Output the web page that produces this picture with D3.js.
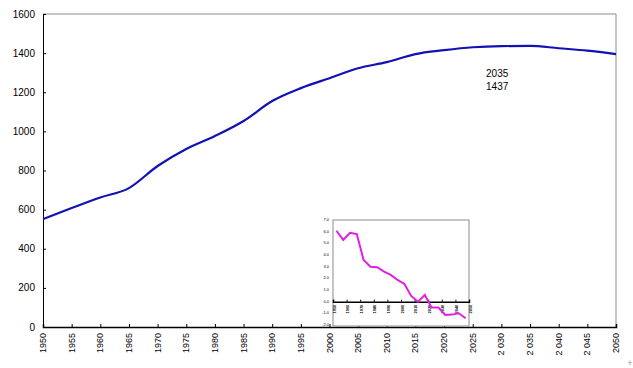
<!DOCTYPE html>
<meta charset="utf-8">
<head>
    <script src="https://d3js.org/d3.v7.min.js"></script>
    <style>
        body { margin: 0; background: #fff; font-family: 'Liberation Sans', Arial, sans-serif; }
        svg { display: block; }
        text { fill: #000; }
        .tick-y { font-size: 10px; }
        .tick-x { font-size: 9px; }
        .note { font-size: 10px; }
        .mini { font-size: 4px; }
    </style>
</head>
<body>
<svg width="633" height="368"></svg>
<script>
    // main series
    const years = [1950, 1955, 1960, 1965, 1970, 1975, 1980, 1985, 1990, 1995, 2000,
        2005, 2010, 2015, 2020, 2025, 2030, 2035, 2040, 2045, 2050];
    const population = [552, 608, 662, 710, 823, 910, 976, 1053, 1155, 1221, 1272,
        1323, 1354, 1395, 1415, 1430, 1436, 1437, 1425, 1413, 1395];
    const yTicks = [0, 200, 400, 600, 800, 1000, 1200, 1400, 1600];
    const xTicks = [1950, 1955, 1960, 1965, 1970, 1975, 1980, 1985, 1990, 1995, 2000,
        2005, 2010, 2015, 2020, 2025, 2030, 2035, 2040, 2045, 2050];
    const xTickLabels = ['1950', '1955', '1960', '1965', '1970', '1975', '1980', '1985', '1990', '1995', '2000',
        '2005', '2010', '2015', '2020', '2025', '2 030', '2 035', '2 040', '2 045', '2050'];

    // inset series (one value per period)
    const insetValues = [6.08, 5.29, 5.91, 5.80, 3.57, 3.0, 2.95, 2.57, 2.29, 1.86,
        1.52, 0.49, 0.0, 0.57, -0.51, -0.51, -1.14, -1.11, -0.99, -1.42];
    const insetYTicks = [-2, -1, 0, 1, 2, 3, 4, 5, 6, 7];
    const insetXTicks = [0, 2, 4, 6, 8, 10, 12, 14, 16, 18, 20];
    const insetXLabels = ['1950', '1960', '1970', '1980', '1990', '2000', '2010', '2020', '2030', '2040', '2050'];

    const svg = d3.select('svg');

    const x = d3.scaleLinear().domain([1950, 2050]).range([43, 616]);
    const y = d3.scaleLinear().domain([0, 1600]).range([327, 14]);

    // frame (top and right in gray)
    svg.append('path')
        .attr('d', `M${x(1950)},${y(1600)}H${x(2050)}V${y(0)}`)
        .attr('fill', 'none')
        .attr('stroke', '#8c8c8c');

    const yAxis = svg.append('g')
        .attr('transform', `translate(${x(1950)},0)`)
        .call(d3.axisRight(y).tickValues(yTicks).tickSize(3).tickFormat(''));
    yAxis.select('.domain').attr('stroke', '#000');
    yAxis.selectAll('.tick line').attr('stroke', '#000');

    svg.append('g').selectAll('text')
        .data(yTicks)
        .enter().append('text')
        .attr('class', 'tick-y')
        .attr('x', x(1950) - 8)
        .attr('y', (d) => y(d) + 3.5)
        .attr('text-anchor', 'end')
        .text((d) => d);

    const xAxis = svg.append('g')
        .attr('transform', `translate(0,${y(0)})`)
        .call(d3.axisTop(x).tickValues(xTicks).tickSize(3).tickFormat(''));
    xAxis.select('.domain').attr('stroke', '#000').attr('stroke-width', 1.5);
    xAxis.selectAll('.tick line').attr('stroke', '#000');

    svg.append('g').selectAll('text')
        .data(xTicks)
        .enter().append('text')
        .attr('class', 'tick-x')
        .attr('transform', (d) => `translate(${x(d) + 3},${y(0) + 6}) rotate(-90)`)
        .attr('text-anchor', 'end')
        .text((d, i) => xTickLabels[i]);

    const line = d3.line()
        .x((d, i) => x(years[i]))
        .y((d) => y(d))
        .curve(d3.curveMonotoneX);

    svg.append('path')
        .datum(population)
        .attr('d', line)
        .attr('fill', 'none')
        .attr('stroke', '#1212b4')
        .attr('stroke-width', 2.2);

    svg.append('text')
        .attr('class', 'note')
        .attr('x', x(2035) - 44)
        .attr('y', y(1437) + 31)
        .text('2035');
    svg.append('text')
        .attr('class', 'note')
        .attr('x', x(2035) - 44)
        .attr('y', y(1437) + 44)
        .text('1437');

    // inset chart
    const ix = d3.scaleLinear().domain([0, 20]).range([333, 469]);
    const iy = d3.scaleLinear().domain([-2, 7]).range([325, 220]);

    svg.append('rect')
        .attr('x', ix(0))
        .attr('y', iy(7))
        .attr('width', ix(20) - ix(0))
        .attr('height', iy(-2) - iy(7) + 1)
        .attr('fill', '#fff')
        .attr('stroke', '#8c8c8c');

    svg.append('g').selectAll('text')
        .data(insetYTicks)
        .enter().append('text')
        .attr('class', 'mini')
        .attr('x', ix(0) - 4)
        .attr('y', (d) => iy(d) + 1)
        .attr('text-anchor', 'end')
        .text((d) => d.toFixed(1));

    const iAxis = svg.append('g')
        .attr('transform', `translate(0,${iy(0)})`)
        .call(d3.axisTop(ix).tickValues(insetXTicks).tickSize(2).tickFormat(''));
    iAxis.select('.domain').attr('stroke', '#000').attr('stroke-width', 1.5);
    iAxis.selectAll('.tick line').attr('stroke', '#000');

    svg.append('g').selectAll('text')
        .data(insetXTicks)
        .enter().append('text')
        .attr('class', 'mini')
        .attr('font-weight', 'bold')
        .attr('font-size', 5)
        .attr('transform', (d) => `translate(${ix(d) + 2.5},${iy(0) + 3}) rotate(-90)`)
        .attr('text-anchor', 'end')
        .text((d, i) => insetXLabels[i]);

    const iLine = d3.line()
        .x((d, i) => ix(i + 0.5))
        .y((d) => iy(d));

    svg.append('path')
        .datum(insetValues)
        .attr('d', iLine)
        .attr('fill', 'none')
        .attr('stroke', '#e020e0')
        .attr('stroke-width', 2);

    svg.append('text')
        .attr('x', 630)
        .attr('y', 366)
        .attr('text-anchor', 'middle')
        .attr('font-size', 9)
        .style('fill', '#999')
        .text('+');
</script>
</body>
